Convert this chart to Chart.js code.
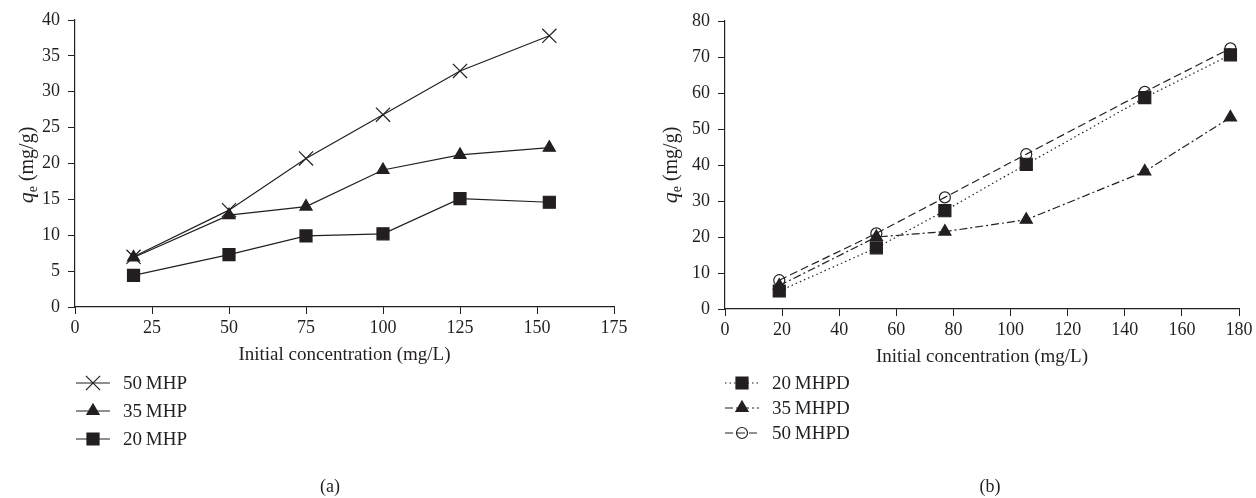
<!DOCTYPE html>
<html>
<head>
<meta charset="utf-8">
<script src="https://cdn.jsdelivr.net/npm/chart.js@4.4.1/dist/chart.umd.min.js"></script>
<style>
  body { margin: 0; background: #fff; }
  #graficoA { position: absolute; left: 0; top: 0; }
  #graficoB { position: absolute; left: 636px; top: 0; }
</style>
</head>
<body>
<canvas id="graficoA" width="636" height="498"></canvas>
<canvas id="graficoB" width="620" height="498"></canvas>
<script>
// datos (a)
const concA = [19, 50, 75, 100, 125, 154];
const mhp50 = [7.0, 13.5, 20.7, 26.8, 32.9, 37.8];
const mhp35 = [6.9, 12.8, 14.0, 19.1, 21.2, 22.2];
const mhp20 = [4.4, 7.3, 9.9, 10.2, 15.1, 14.6];
const ticksXA = [0, 175, 25];
const ticksYA = [0, 40, 5];

// datos (b)
const concB = [19, 53, 77, 105.5, 147, 177];
const mhpd20 = [5.0, 17.0, 27.3, 40.2, 58.7, 70.6];
const mhpd35 = [6.5, 20.0, 21.5, 24.8, 38.2, 53.2];
const mhpd50 = [8.0, 21.0, 31.0, 43.0, 60.3, 72.4];
const ticksXB = [0, 180, 20];
const ticksYB = [0, 80, 10];

const negro = '#231f20';
const fuente = "'Liberation Serif', 'DejaVu Serif', serif";

function puntos(xs, ys) {
    return xs.map((x, i) => ({ x: x, y: ys[i] }));
}

function serie(label, xs, ys, estilo, radio, dash, relleno) {
    return {
        label: label,
        data: puntos(xs, ys),
        showLine: true,
        borderColor: negro,
        borderWidth: 1.2,
        borderDash: dash,
        pointStyle: estilo,
        pointRadius: radio,
        pointBorderWidth: 1.2,
        pointBorderColor: negro,
        pointBackgroundColor: relleno,
        backgroundColor: relleno
    };
}

function extras(cfg) {
    return {
        id: 'extras',
        afterDraw(chart) {
            const ctx = chart.ctx;
            ctx.save();
            ctx.fillStyle = negro;
            ctx.strokeStyle = negro;

            // titulo eje y: q_e (mg/g)
            ctx.save();
            ctx.translate(cfg.tituloY[0], cfg.tituloY[1]);
            ctx.rotate(-Math.PI / 2);
            ctx.textBaseline = 'alphabetic';
            ctx.font = 'italic 22px ' + fuente;
            const wq = ctx.measureText('q').width;
            ctx.font = '14px ' + fuente;
            const we = ctx.measureText('e').width;
            ctx.font = '20px ' + fuente;
            const wr = ctx.measureText(' (mg/g)').width;
            let x0 = -(wq + we + wr) / 2;
            ctx.font = 'italic 22px ' + fuente;
            ctx.fillText('q', x0, 7);
            ctx.font = '14px ' + fuente;
            ctx.fillText('e', x0 + wq, 11);
            ctx.font = '20px ' + fuente;
            ctx.fillText(' (mg/g)', x0 + wq + we, 7);
            ctx.restore();

            // leyenda
            const lx = cfg.leyenda[0];
            let ly = cfg.leyenda[1];
            chart.data.datasets.forEach(ds => {
                ctx.save();
                ctx.lineWidth = 1.2;
                ctx.setLineDash(ds.borderDash || []);
                ctx.beginPath();
                ctx.moveTo(lx, ly);
                ctx.lineTo(lx + 34, ly);
                ctx.stroke();
                ctx.setLineDash([]);
                ctx.fillStyle = ds.pointBackgroundColor;
                Chart.helpers.drawPoint(ctx, {
                    pointStyle: ds.pointStyle,
                    radius: ds.pointRadius,
                    rotation: 0,
                    borderWidth: 1.2
                }, lx + 17, ly);
                ctx.restore();
                ctx.font = '19px ' + fuente;
                ctx.textBaseline = 'middle';
                ctx.textAlign = 'left';
                ctx.fillText(ds.label, lx + 47, ly + 1);
                ly += cfg.leyenda[2];
            });

            // rotulo (a)/(b)
            ctx.font = '18px ' + fuente;
            ctx.textAlign = 'center';
            ctx.textBaseline = 'middle';
            ctx.fillText(cfg.rotulo, cfg.posRotulo[0], cfg.posRotulo[1]);
            ctx.restore();
        }
    };
}

function escalas(tx, ty, anchoY) {
    const marcas = { display: true, drawOnChartArea: false, drawTicks: true, tickLength: 7, color: negro, lineWidth: 1 };
    return {
        x: {
            type: 'linear', min: tx[0], max: tx[1],
            border: { color: negro, width: 1.2 },
            grid: marcas,
            ticks: { stepSize: tx[2], color: negro, font: { family: fuente, size: 18 }, padding: 3, maxRotation: 0 },
            title: { display: true, text: 'Initial concentration (mg/L)', color: negro, font: { family: fuente, size: 19 }, padding: { top: 0, bottom: 2 } },
            afterFit(s) { s.height = 61; s.paddingLeft = 0; s.paddingRight = 0; }
        },
        y: {
            type: 'linear', min: ty[0], max: ty[1],
            border: { color: negro, width: 1.2 },
            grid: marcas,
            ticks: { stepSize: ty[2], color: negro, font: { family: fuente, size: 18 }, padding: 8 },
            afterFit(s) { s.width = anchoY; s.paddingTop = 0; s.paddingBottom = 0; }
        }
    };
}

function miGrafico(id, datasets, tx, ty, anchoY, padding, cfg) {
    return new Chart(document.getElementById(id), {
        type: 'scatter',
        data: { datasets: datasets },
        options: {
            responsive: false,
            animation: false,
            devicePixelRatio: 1,
            layout: { padding: padding },
            plugins: { legend: { display: false }, tooltip: { enabled: false } },
            scales: escalas(tx, ty, anchoY)
        },
        plugins: [extras(cfg)]
    });
}

miGrafico('graficoA', [
    serie('50\u2009MHP', concA, mhp50, 'crossRot', 10, [], 'transparent'),
    serie('35\u2009MHP', concA, mhp35, 'triangle', 7, [], negro),
    serie('20\u2009MHP', concA, mhp20, 'rect', 8.5, [], negro)
], ticksXA, ticksYA, 75, { left: 0, right: 22, top: 20, bottom: 130 },
   { tituloY: [26, 165], leyenda: [76, 383, 28], rotulo: '(a)', posRotulo: [330, 487] });

miGrafico('graficoB', [
    serie('20\u2009MHPD', concB, mhpd20, 'rect', 8.5, [1.5, 3], negro),
    serie('35\u2009MHPD', concB, mhpd35, 'triangle', 7, [8, 3, 2, 3], negro),
    serie('50\u2009MHPD', concB, mhpd50, 'circle', 5.5, [8, 4], 'transparent')
], ticksXB, ticksYB, 89, { left: 0, right: 17, top: 21, bottom: 128 },
   { tituloY: [34, 165], leyenda: [89, 383, 25], rotulo: '(b)', posRotulo: [354, 487] });
</script>
</body>
</html>
